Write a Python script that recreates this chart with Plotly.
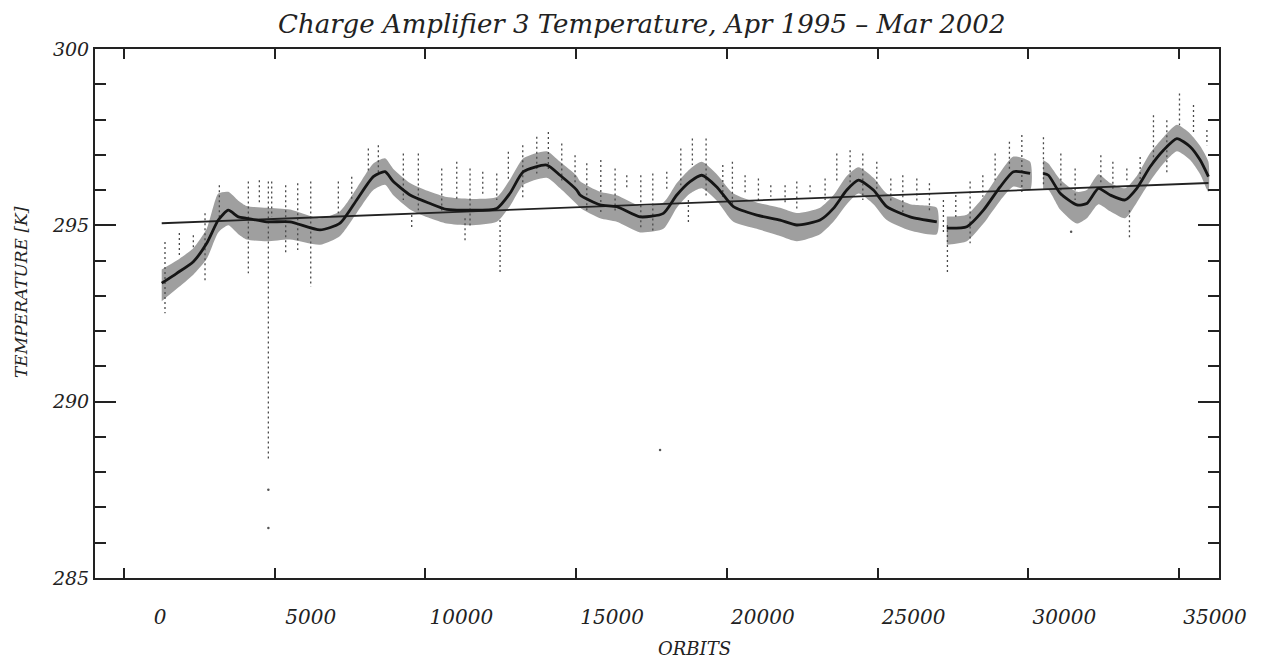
import plotly.graph_objects as go

# ---------------- data ----------------
title_text = "Charge Amplifier 3 Temperature, Apr 1995 \u2013 Mar 2002"
x_title = "ORBITS"
y_title = "TEMPERATURE [K]"

x_ticks = [0, 5000, 10000, 15000, 20000, 25000, 30000, 35000]
y_ticks = [285, 290, 295, 300]

# smoothed temperature curve
curve_orbit = [1251, 1749, 2299, 2744, 3129, 3461, 3792, 4071, 4735, 5508,
               6503, 7167, 7721, 8272, 8660, 8935, 9489, 10153, 10707, 11480,
               12366, 12807, 13249, 14025, 14466, 15021, 15130, 15794, 16348, 17121,
               17894, 18339, 18780, 19168, 19666, 20217, 20993, 21766, 22320, 23093,
               23535, 23979, 24364, 24862, 25306, 26079, 26965,
               27297, 27961, 28512, 29066, 29507, 30061,
               30492, 30668, 31056, 31611, 31942, 32327, 32715, 33213, 33601, 34043,
               34484, 34929, 35370, 35702, 35977]
curve_temp = [293.36, 293.64, 293.97, 294.49, 295.15, 295.43, 295.24, 295.20, 295.10, 295.10,
              294.87, 295.06, 295.72, 296.38, 296.52, 296.24, 295.86, 295.62, 295.45, 295.43,
              295.48, 295.91, 296.52, 296.71, 296.42, 296.00, 295.86, 295.58, 295.53, 295.24,
              295.34, 295.86, 296.24, 296.42, 296.09, 295.53, 295.29, 295.15, 295.01, 295.15,
              295.48, 296.00, 296.28, 296.00, 295.53, 295.24, 295.10,
              294.92, 294.96, 295.43, 296.09, 296.52, 296.47,
              296.47, 296.42, 295.91, 295.58, 295.62, 296.05, 295.86, 295.72, 296.05, 296.66,
              297.13, 297.46, 297.23, 296.85, 296.38]
# upper / lower edges of the grey cloud of individual readings
band_hi = [293.75, 294.00, 294.35, 294.90, 295.90, 295.95, 295.70, 295.55, 295.50, 295.45,
           295.20, 295.40, 296.05, 296.75, 296.90, 296.60, 296.20, 295.95, 295.80, 295.75,
           295.80, 296.30, 296.90, 297.10, 296.80, 296.40, 296.25, 295.95, 295.85, 295.55,
           295.65, 296.20, 296.60, 296.80, 296.45, 295.90, 295.65, 295.50, 295.35, 295.50,
           295.85, 296.40, 296.65, 296.35, 295.90, 295.60, 295.50,
           295.25, 295.30, 295.80, 296.50, 296.95, 296.80,
           296.85, 296.75, 296.30, 295.95, 296.00, 296.45, 296.20, 296.05, 296.40, 297.05,
           297.50, 297.85, 297.60, 297.25, 296.80]
band_lo = [292.85, 293.20, 293.60, 294.05, 294.80, 295.00, 294.75, 294.60, 294.55, 294.60,
           294.45, 294.70, 295.35, 296.00, 296.15, 295.85, 295.45, 295.20, 295.05, 295.00,
           295.10, 295.55, 296.15, 296.35, 296.05, 295.60, 295.50, 295.20, 295.10, 294.80,
           294.90, 295.50, 295.90, 296.05, 295.70, 295.10, 294.90, 294.70, 294.55, 294.75,
           295.10, 295.60, 295.90, 295.60, 295.15, 294.85, 294.75,
           294.45, 294.55, 295.05, 295.70, 296.10, 296.00,
           296.00, 296.00, 295.45, 295.05, 295.20, 295.60, 295.40, 295.20, 295.65, 296.25,
           296.75, 297.10, 296.85, 296.45, 295.95]
segment_starts = [27297, 30492]

# linear trend
trend_orbit = [1251, 35977]
trend_temp = [295.06, 296.20]

# dotted vertical spikes of scattered readings
spike_orbit = [1360, 1836, 2300, 2688, 3163, 4125, 4490, 4789, 4900, 5364,
               5763, 6195, 7111, 7555, 8106, 8438, 9267, 9545, 9765, 10541,
               11039, 11314, 11480, 11902, 12366, 12476, 12751, 13229, 13694, 14078,
               14523, 14964, 15353, 15818, 16292, 16680, 17145, 17543, 18007, 18472,
               18724, 18856, 19311, 19865, 20184, 20605, 21047, 21458, 21932, 22320,
               22761, 23259, 23647, 24089, 24510, 24974, 25439, 25837, 26302, 26720,
               27184, 27317, 27595, 28070, 28492, 28900, 29374, 29786, 30503, 31080,
               31554, 32407, 32806, 33270, 33356, 33711, 34153, 34596, 35016, 35481,
               35926]
spike_top = [294.53, 294.78, 294.72, 295.34, 296.14, 296.24, 296.28, 296.24, 296.24, 296.14,
             296.19, 296.24, 296.24, 296.38, 297.18, 297.27, 297.04, 295.29, 297.04, 296.61,
             296.80, 295.20, 296.61, 296.52, 296.47, 295.15, 297.09, 297.27, 297.51, 297.65,
             297.32, 296.99, 296.76, 296.85, 296.61, 296.42, 296.42, 296.47, 296.52, 297.18,
             295.72, 297.46, 297.46, 296.71, 296.80, 296.42, 296.33, 296.14, 296.14, 296.24,
             296.14, 296.33, 297.04, 297.13, 297.04, 296.80, 296.33, 296.42, 296.33, 296.19,
             295.72, 295.01, 295.86, 296.24, 296.42, 297.04, 297.37, 297.56, 297.50, 297.04,
             296.61, 296.99, 296.80, 296.61, 295.43, 296.94, 298.12, 297.98, 298.74, 298.41,
             297.70]
spike_bottom = [292.51, 294.11, 294.30, 293.36, 295.15, 293.64, 295.62, 288.30, 295.24, 294.21,
                294.30, 293.26, 295.34, 295.72, 296.47, 296.42, 295.72, 294.87, 295.43, 295.34,
                295.72, 294.50, 294.96, 295.81, 295.72, 293.64, 296.28, 295.72, 296.47, 296.57,
                296.19, 296.14, 295.43, 295.29, 295.34, 296.00, 294.87, 294.78, 296.00, 296.14,
                295.06, 296.71, 295.81, 295.72, 295.58, 295.91, 295.62, 295.81, 295.58, 295.43,
                295.86, 295.72, 296.19, 296.14, 295.72, 296.00, 295.67, 295.34, 295.62, 295.43,
                294.73, 293.59, 295.15, 294.49, 295.81, 296.28, 296.57, 295.91, 296.14, 295.81,
                295.72, 296.14, 296.00, 296.28, 294.58, 296.14, 296.71, 296.42, 297.84, 297.56,
                297.27]

# isolated outlying readings
outlier_orbit = [4789, 4789, 17784, 31421]
outlier_temp = [287.50, 286.42, 288.63, 294.82]

# ---------------- figure ----------------
FONT = "DejaVu Serif"
fig = go.Figure()

idx_breaks = [curve_orbit.index(s) for s in segment_starts]
bounds = [0] + idx_breaks + [len(curve_orbit)]
for a, b in zip(bounds[:-1], bounds[1:]):
    xs = curve_orbit[a:b]
    fig.add_trace(go.Scatter(
        x=xs + xs[::-1], y=band_hi[a:b] + band_lo[a:b][::-1],
        mode="lines", fill="toself", fillcolor="rgba(80,80,80,0.55)",
        line=dict(width=0, shape="spline", smoothing=0.6), hoverinfo="skip", showlegend=False))

sx, sy = [], []
for o, t, bt in zip(spike_orbit, spike_top, spike_bottom):
    sx += [o, o, None]
    sy += [t, bt, None]
fig.add_trace(go.Scatter(x=sx, y=sy, mode="lines",
                         line=dict(color="#4a4a4a", width=1.3, dash="2px,3px"),
                         showlegend=False))

fig.add_trace(go.Scatter(x=outlier_orbit, y=outlier_temp, mode="markers",
                         marker=dict(color="#555555", size=2.5), showlegend=False))

fig.add_trace(go.Scatter(x=trend_orbit, y=trend_temp, mode="lines",
                         line=dict(color="#222222", width=1.9), showlegend=False))

for a, b in zip(bounds[:-1], bounds[1:]):
    fig.add_trace(go.Scatter(x=curve_orbit[a:b], y=curve_temp[a:b], mode="lines",
                             line=dict(color="#151515", width=2.8, shape="spline", smoothing=0.6),
                             showlegend=False))

# the page body adds an 8px margin; positions below are in window pixels
OFF = 8
W, H = 1264 - OFF, 662 - OFF
L, R = 95 - OFF, 45
T, B = 49 - OFF, 84
pw, ph = W - L - R, H - T - B

def px_x(p):
    return (p - OFF - L) / pw

def px_y(p):
    return (H - B - (p - OFF)) / ph

fig.update_layout(
    width=W, height=H,
    margin=dict(l=L, r=R, t=T, b=B),
    paper_bgcolor="#ffffff", plot_bgcolor="#ffffff",
    font=dict(family=FONT, color="#222222"),
    xaxis=dict(range=[-962, 36327], tickvals=x_ticks, ticktext=[str(v) for v in x_ticks],
               ticks="inside", ticklen=10, tickwidth=1.5, tickcolor="#222",
               showline=True, linecolor="#222", linewidth=2, mirror="ticks",
               showgrid=False, zeroline=False,
               tickfont=dict(family=FONT, size=20, style="italic", color="#222"),
               ticklabelshift=36, ticklabelstandoff=20),
    yaxis=dict(range=[285, 300], tickvals=y_ticks, ticktext=[str(v) for v in y_ticks],
               ticks="inside", ticklen=21, tickwidth=1.5, tickcolor="#222",
               minor=dict(tick0=285, dtick=1, ticks="inside", ticklen=11, tickwidth=1.5, tickcolor="#222"),
               showline=True, linecolor="#222", linewidth=2, mirror="ticks",
               showgrid=False, zeroline=False,
               tickfont=dict(family=FONT, size=19, style="italic", color="#222")),
    annotations=[
        dict(text=title_text, x=px_x(641), y=px_y(24), xref="paper", yref="paper",
             xanchor="center", yanchor="middle", showarrow=False,
             font=dict(family=FONT, size=26, style="italic", color="#222")),
        dict(text=x_title, x=px_x(695), y=px_y(648), xref="paper", yref="paper",
             xanchor="center", yanchor="middle", showarrow=False,
             font=dict(family=FONT, size=18, style="italic", color="#222")),
        dict(text=y_title, x=px_x(21), y=px_y(292), xref="paper", yref="paper",
             xanchor="center", yanchor="middle", showarrow=False, textangle=-90,
             font=dict(family=FONT, size=17, style="italic", color="#222")),
    ],
)

fig.write_html("out.html")
